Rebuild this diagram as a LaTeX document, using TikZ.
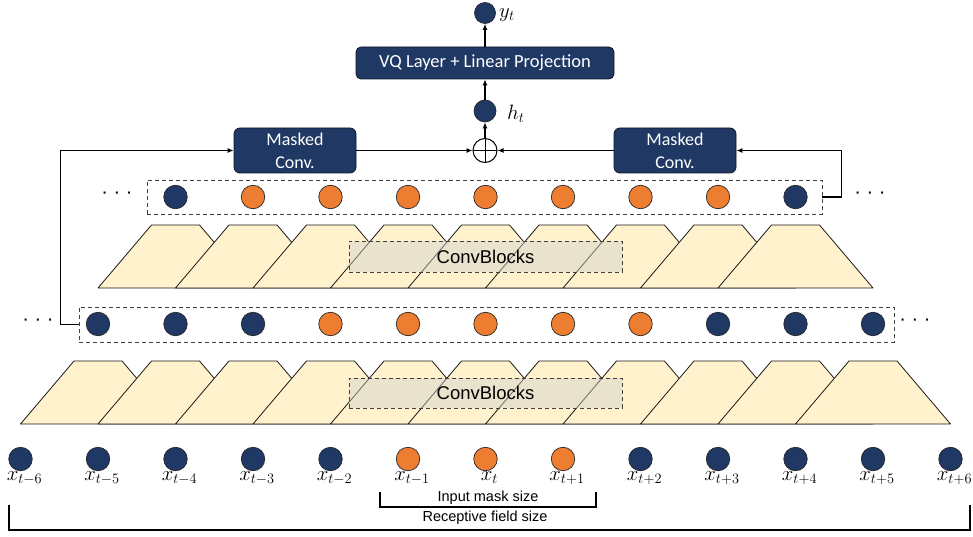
\documentclass[tikz,border=0pt]{standalone}
\usepackage{fontspec}
\setmainfont{Liberation Sans}
\newfontfamily\calibri{Carlito}
\usetikzlibrary{arrows.meta}

\definecolor{navy}{HTML}{203864}
\definecolor{orng}{HTML}{ED7D31}
\definecolor{trap}{HTML}{FFF2CC}
\definecolor{veil}{HTML}{CFCFCF}

\tikzset{
  unit/.style={circle, draw=black!85, line width=0.7pt, minimum size=23.5pt, inner sep=0pt},
  navyunit/.style={unit, fill=navy},
  orangeunit/.style={unit, fill=orng},
  convblock/.style={fill=trap, draw=black!90, line width=0.8pt, line join=round},
  rowbox/.style={draw=black!75, dash pattern=on 4pt off 3pt, line width=0.9pt, inner sep=0pt},
  veilbox/.style={rowbox, fill=veil, fill opacity=0.45, text opacity=1,
    font=\fontsize{18.5}{22}\selectfont},
  opbox/.style={rounded corners=6pt, fill=navy, draw=black!60!navy, line width=0.8pt,
    text=white, align=center, inner sep=0pt},
  arr/.style={-{Latex[length=6pt,width=5pt]}, line width=1.1pt},
  brk/.style={line width=1.3pt},
  lab/.style={font=\fontsize{20}{24}\selectfont, anchor=base, inner sep=0pt},
  sidelab/.style={font=\fontsize{20}{24}\selectfont, anchor=west, inner sep=0pt},
  dots/.style={font=\fontsize{20}{24}\selectfont, inner sep=0pt},
  note/.style={font=\fontsize{14.5}{17}\selectfont, inner sep=0pt},
}

\begin{document}
\begin{tikzpicture}[x=1pt, y=-1pt]
\useasboundingbox (0,0) rectangle (973,537);

% lower stack of convolution blocks
\foreach \k in {1,...,11} {
  \pgfmathsetmacro\xc{20.5+77.5*\k}
  \draw[convblock] (\xc-77.5,424) -- (\xc-24,361) -- (\xc+24,361) -- (\xc+77.5,424) -- cycle;
}
\node[veilbox, minimum width=273pt, minimum height=30pt] (cbA) at (485.5,393) {ConvBlocks};

% upper stack of convolution blocks
\foreach \k in {2,...,10} {
  \pgfmathsetmacro\xc{20.5+77.5*\k}
  \draw[convblock] (\xc-77.5,288) -- (\xc-24,225) -- (\xc+24,225) -- (\xc+77.5,288) -- cycle;
}
\node[veilbox, minimum width=273pt, minimum height=31pt] (cbB) at (485.5,256.5) {ConvBlocks};

% input sequence
\foreach \k/\sub/\col in {0/t-6/navyunit, 1/t-5/navyunit, 2/t-4/navyunit, 3/t-3/navyunit,
    4/t-2/navyunit, 5/t-1/orangeunit, 6/t/orangeunit, 7/t+1/orangeunit, 8/t+2/navyunit,
    9/t+3/navyunit, 10/t+4/navyunit, 11/t+5/navyunit, 12/t+6/navyunit} {
  \node[\col] (x\k) at (20.5+77.5*\k,459) {};
  \node[lab] (lx\k) at (24.5+77.5*\k,480) {$x_{\sub}$};
}

% first hidden sequence
\node[rowbox, minimum width=815pt, minimum height=35pt] (rowA) at (486.5,324.5) {};
\foreach \k/\col in {1/navyunit, 2/navyunit, 3/navyunit, 4/orangeunit, 5/orangeunit,
    6/orangeunit, 7/orangeunit, 8/orangeunit, 9/navyunit, 10/navyunit, 11/navyunit} {
  \node[\col] (a\k) at (20.5+77.5*\k,324) {};
}
\node[dots] (dotsAl) at (38,322) {· · ·};
\node[dots] (dotsAr) at (915,322) {· · ·};

% second hidden sequence
\node[rowbox, minimum width=675pt, minimum height=34pt] (rowB) at (484.5,197) {};
\foreach \k/\col in {2/navyunit, 3/orangeunit, 4/orangeunit, 5/orangeunit, 6/orangeunit,
    7/orangeunit, 8/orangeunit, 9/orangeunit, 10/navyunit} {
  \node[\col] (b\k) at (20.5+77.5*\k,197) {};
}
\node[dots] (dotsBl) at (117,195) {· · ·};
\node[dots] (dotsBr) at (870,195) {· · ·};

% masked convolutions, sum and output head
\node[opbox, minimum width=122pt, minimum height=45pt,
  font=\calibri\fontsize{18}{23}\selectfont] (mcL) at (295,150.5) {Masked\\Conv.};
\node[opbox, minimum width=122pt, minimum height=45pt,
  font=\calibri\fontsize{18}{23}\selectfont] (mcR) at (675,150.5) {Masked\\Conv.};
\node[circle, draw, fill=white, line width=1pt, minimum size=24pt, inner sep=0pt,
  path picture={\draw[line width=1pt]
    (path picture bounding box.north) -- (path picture bounding box.south)
    (path picture bounding box.west) -- (path picture bounding box.east);}] (plus) at (485,150.5) {};
\node[navyunit, minimum size=22pt] (ht) at (485,111) {};
\node[sidelab] (htl) at (507,114) {$h_t$};
\node[opbox, minimum width=258pt, minimum height=32pt, rounded corners=5pt,
  font=\calibri\fontsize{18.5}{22}\selectfont] (vq) at (485,63) {VQ Layer + Linear Projection};
\node[navyunit, minimum size=21pt] (yt) at (485,13) {};
\node[sidelab] (ytl) at (499,15) {$y_t$};

% connectors
\draw[arr] (rowA.west) -- ++(-18,0) |- (mcL.west);
\draw[arr] (rowB.east) -- ++(19,0) |- (mcR.east);
\draw[arr] (mcL.east) -- (plus.west);
\draw[arr] (mcR.west) -- (plus.east);
\draw[arr] (plus.north) -- (ht.south);
\draw[arr] (ht.north) -- (vq.south);
\draw[arr] (vq.north) -- (yt.south);

% size brackets
\draw[brk] (380,492) |- (596,507) -- (596,492);
\node[note] (masksize) at (488,497.5) {Input mask size};
\draw[brk] (9,505) |- (970,530) -- (970,505);
\node[note] (fieldsize) at (485,518) {Receptive field size};
\end{tikzpicture}
\end{document}
